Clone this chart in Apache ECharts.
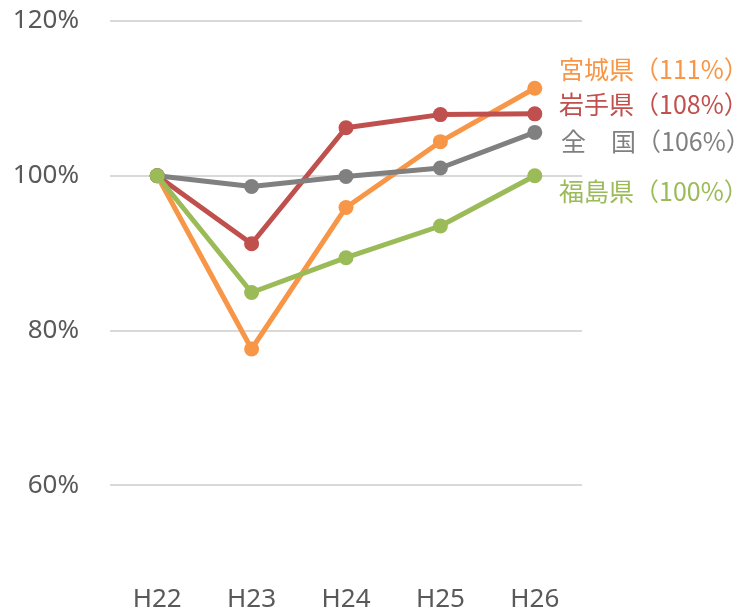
<!DOCTYPE html>
<html>
<head>
<meta charset="utf-8">
<script src="https://cdn.jsdelivr.net/npm/echarts@6/dist/echarts.min.js"></script>
<style>html,body{margin:0;padding:0;background:#fff}#c{width:741px;height:614px}</style>
</head>
<body>
<div id="c"></div>
<script>
const categories = ['H22', 'H23', 'H24', 'H25', 'H26'];
const miyagi = [100, 77.6, 95.9, 104.4, 111.3];
const iwate = [100, 91.2, 106.2, 107.9, 108.0];
const zenkoku = [100, 98.6, 99.9, 101.0, 105.6];
const fukushima = [100, 84.9, 89.4, 93.5, 100.0];
const yTicks = [60, 80, 100, 120];
const labelTexts = ['宮城県（111%）', '岩手県（108%）', '全　国（106%）', '福島県（100%）'];

const colors = ['#F79646', '#C0504D', '#808080', '#9BBB59'];
const chart = echarts.init(document.getElementById('c'));
function mk(name, data, color, z) {
  return {
    name, type: 'line', data, z,
    symbol: 'circle', symbolSize: 15,
    lineStyle: { color, width: 5 },
    itemStyle: { color },
    animation: false
  };
}
chart.setOption({
  animation: false,
  grid: { left: 110, right: 159, top: 21, bottom: 51.5 },
  xAxis: {
    type: 'category', data: categories, boundaryGap: true,
    axisLine: { show: false }, axisTick: { show: false },
    axisLabel: { color: '#595959', fontSize: 26, fontFamily: 'Noto Sans', margin: 24 }
  },
  yAxis: {
    type: 'value', min: 50, max: 120, interval: 10,
    axisLine: { show: false }, axisTick: { show: false },
    axisLabel: {
      color: '#595959', fontSize: 26, fontFamily: 'Noto Sans', margin: 31,
      formatter: v => yTicks.includes(v) ? v + '%' : ''
    },
    splitLine: { show: true, lineStyle: { color: ['transparent', '#D9D9D9'], width: 2 } }
  },
  series: [
    mk('宮城県', miyagi, colors[0], 2),
    mk('岩手県', iwate, colors[1], 3),
    mk('全国', zenkoku, colors[2], 4),
    mk('福島県', fukushima, colors[3], 5)
  ],
  graphic: [
    { type: 'text', left: 559, top: 57, style: { text: labelTexts[0], fill: colors[0], font: '25px "Noto Sans CJK JP"' } },
    { type: 'text', left: 559, top: 92, style: { text: labelTexts[1], fill: colors[1], font: '25px "Noto Sans CJK JP"' } },
    { type: 'text', left: 561, top: 129, style: { text: labelTexts[2], fill: colors[2], font: '25px "Noto Sans CJK JP"' } },
    { type: 'text', left: 559, top: 179, style: { text: labelTexts[3], fill: colors[3], font: '25px "Noto Sans CJK JP"' } }
  ]
});
</script>
</body>
</html>
